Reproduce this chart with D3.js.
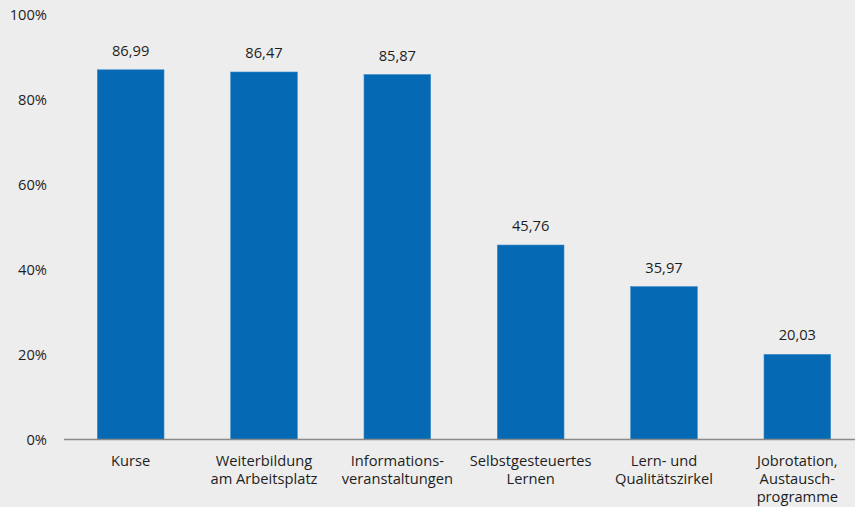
<!DOCTYPE html>
<html>
<head>
<meta charset="utf-8">
<script src="https://cdn.jsdelivr.net/npm/d3@7"></script>
<style>
  body { margin: 0; background: #ededed; }
  svg { display: block; font-family: "Open Sans", "Noto Sans", sans-serif; }
</style>
</head>
<body>
<div class="chart"></div>
<script>
const categories = [
  ["Kurse"],
  ["Weiterbildung", "am Arbeitsplatz"],
  ["Informations-", "veranstaltungen"],
  ["Selbstgesteuertes", "Lernen"],
  ["Lern- und", "Qualitätszirkel"],
  ["Jobrotation,", "Austausch-", "programme"]
];
const values = [86.99, 86.47, 85.87, 45.76, 35.97, 20.03];
const yTicks = [0, 20, 40, 60, 80, 100];

const width = 855, height = 507;
const fontSize = "14.7px";
const svg = d3.select(".chart").append("svg")
  .attr("width", width)
  .attr("height", height);

svg.append("rect").attr("width", width).attr("height", height).attr("fill", "#ededed");

const data = values.map((v, i) => ({ label: categories[i], value: v, key: i }));

const xScale = d3.scaleBand()
  .domain(data.map(d => d.key))
  .range([64, 864])
  .paddingInner(0.5)
  .paddingOuter(0.25);

const yScale = d3.scaleLinear()
  .domain([0, 100])
  .range([439.5, 14.5]);

// y tick labels
svg.selectAll(".ytick")
  .data(yTicks)
  .enter()
  .append("text")
  .attr("class", "ytick")
  .attr("x", 47)
  .attr("y", d => yScale(d))
  .attr("dy", "0.35em")
  .attr("text-anchor", "end")
  .attr("font-size", fontSize)
  .attr("fill", "#1e1e1e")
  .text(d => d + "%");

svg.selectAll(".bar")
  .data(data)
  .enter()
  .append("rect")
  .attr("class", "bar")
  .attr("x", d => xScale(d.key))
  .attr("y", d => yScale(d.value))
  .attr("width", xScale.bandwidth())
  .attr("height", d => yScale(0) - yScale(d.value))
  .attr("fill", "#0569b3")
  .attr("stroke", "#3d8ac9")
  .attr("stroke-width", 0.6);

// baseline
svg.append("line")
  .attr("x1", 64).attr("x2", width)
  .attr("y1", yScale(0)).attr("y2", yScale(0))
  .attr("stroke", "#8a8a8a")
  .attr("stroke-width", 1.5);

// value labels
svg.selectAll(".val")
  .data(data)
  .enter()
  .append("text")
  .attr("class", "val")
  .attr("x", d => xScale(d.key) + xScale.bandwidth() / 2)
  .attr("y", d => yScale(d.value) - 14)
  .attr("text-anchor", "middle")
  .attr("font-size", fontSize)
  .attr("fill", "#1e1e1e")
  .text(d => d.value.toFixed(2).replace(".", ","));

// category labels
const cats = svg.selectAll(".cat")
  .data(data)
  .enter()
  .append("text")
  .attr("class", "cat")
  .attr("text-anchor", "middle")
  .attr("font-size", fontSize)
  .attr("fill", "#1e1e1e");

cats.selectAll("tspan")
  .data(d => d.label.map(l => ({ l, x: xScale(d.key) + xScale.bandwidth() / 2 })))
  .enter()
  .append("tspan")
  .attr("x", d => d.x)
  .attr("y", (d, i) => 466 + i * 18)
  .text(d => d.l);
</script>
</body>
</html>
